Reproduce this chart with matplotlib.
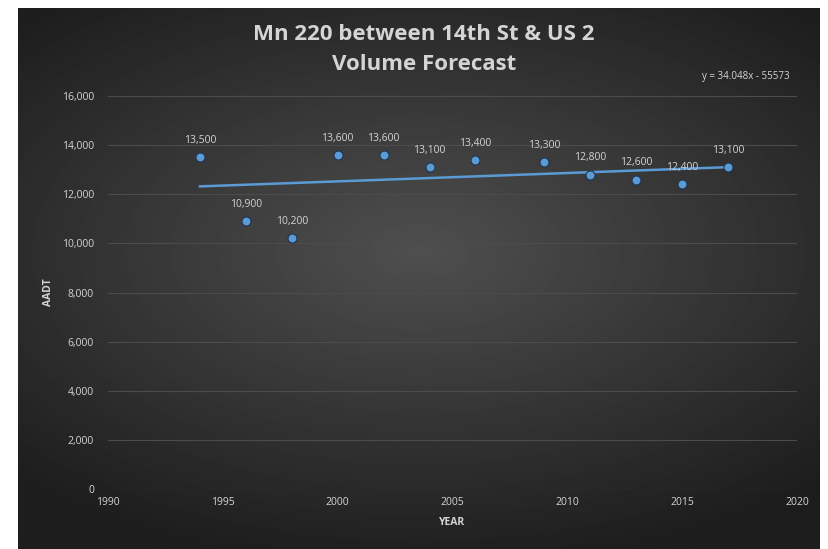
import numpy as np
import matplotlib
matplotlib.use('Agg')
import matplotlib.pyplot as plt

# traffic counts
years = [1994, 1996, 1998, 2000, 2002, 2004, 2006, 2009, 2011, 2013, 2015, 2017]
aadt = [13500, 10900, 10200, 13600, 13600, 13100, 13400, 13300, 12800, 12600, 12400, 13100]
x_ticks = [1990, 1995, 2000, 2005, 2010, 2015, 2020]
y_ticks = [0, 2000, 4000, 6000, 8000, 10000, 12000, 14000, 16000]

TEXT = '#d4d4d4'
BLUE = '#5b9bd5'

plt.rcParams['font.family'] = ['Open Sans', 'DejaVu Sans']

fig = plt.figure(figsize=(8.29, 5.49), dpi=100)
fig.patch.set_facecolor('white')

# dark chart area with a soft radial gradient
bg = fig.add_axes([18 / 829, 0, (820 - 18) / 829, 1 - 8 / 549])
bg.set_axis_off()
yy, xx = np.mgrid[-1:1:300j, -1:1:400j]
r = np.sqrt((xx * 0.9) ** 2 + ((yy + 0.1) * 1.1) ** 2)
bg.imshow(0.31 - 0.15 * np.clip(r, 0, 1.3), cmap='gray', vmin=0, vmax=1,
          aspect='auto', extent=[0, 1, 0, 1])
bg.set_xlim(0, 1)
bg.set_ylim(0, 1)

ax = fig.add_axes([108 / 829, 1 - 489 / 549, (797 - 108) / 829, (489 - 96) / 549])
ax.patch.set_alpha(0)
for s in ax.spines.values():
    s.set_visible(False)
ax.set_xlim(1990, 2020)
ax.set_ylim(0, 16000)
ax.set_xticks(x_ticks)
ax.set_yticks(y_ticks)
ax.set_yticklabels([f'{v:,}' for v in y_ticks])
ax.tick_params(colors=TEXT, labelsize=7.5, length=0, pad=10)
ax.tick_params(axis='x', pad=6)
ax.grid(axis='y', color='#4c4c4c', lw=0.8)
ax.set_axisbelow(True)

# linear trend like the spreadsheet trendline
m, b = np.polyfit(years, aadt, 1)
tx = np.array([years[0], years[-1]])
ax.plot(tx, m * tx + b, color=BLUE, lw=1.8, zorder=2)

ax.scatter(years, aadt, s=42, color=BLUE, edgecolor='#1f3550', lw=0.8, zorder=3)
for x, y in zip(years, aadt):
    ax.annotate(f'{y:,}', (x, y), xytext=(0, 8), textcoords='offset points',
                ha='center', va='bottom', color=TEXT, fontsize=7.5)

ax.set_xlabel('YEAR', color=TEXT, fontsize=7.5, fontweight='bold', labelpad=6)
ax.set_ylabel('AADT', color=TEXT, fontsize=7.5, fontweight='bold', labelpad=6)

fig.text(424 / 829, 1 - 35 / 549, 'Mn 220 between 14th St & US 2', ha='center', va='center',
         color=TEXT, fontsize=16, fontweight='bold')
fig.text(424 / 829, 1 - 64 / 549, 'Volume Forecast', ha='center', va='center',
         color=TEXT, fontsize=16, fontweight='bold')
fig.text(790 / 829, 1 - 77 / 549, f'y = {m:.3f}x - {-b:.0f}', ha='right', va='center',
         color=TEXT, fontsize=7)

plt.savefig('out.png', dpi=100)
